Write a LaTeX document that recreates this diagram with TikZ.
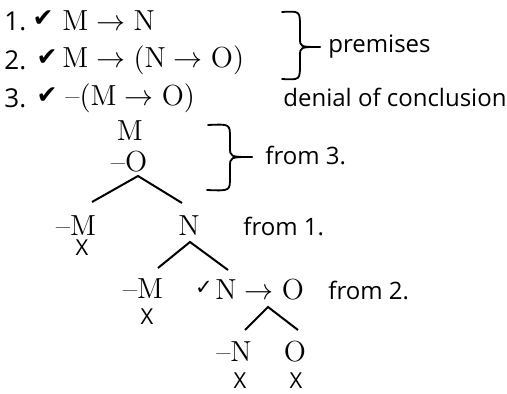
\RequirePackage{fix-cm}
\documentclass[tikz,border=0pt]{standalone}
\usepackage{fontspec}
\usepackage{amsmath}
\newfontfamily\handfont{Open Sans}
\newfontfamily\tickfont{DejaVu Sans}
\usetikzlibrary{positioning}
\newcommand{\fml}[1]{$\mathrm{#1}$}

\begin{document}
\begin{tikzpicture}[
  x=0.5pt, y=-0.5pt,
  hand/.style={font=\handfont\fontsize{12}{14}\selectfont, inner sep=0pt},
  numb/.style={font=\handfont\fontsize{13}{15}\selectfont, inner sep=0pt},
  cross/.style={font=\handfont\fontsize{11}{13}\selectfont, inner sep=0pt},
  frm/.style={font=\fontsize{14.5}{17}\selectfont, inner sep=0pt},
  tick/.style={font=\tickfont\fontsize{12.5}{14}\selectfont, inner sep=0pt},
  branch/.style={line width=1pt},
  brace/.style={line width=0.9pt, line cap=round}
]
\useasboundingbox (0,0) rectangle (507,394);

% premises and denied conclusion
\node[numb, anchor=west] (num1) at (4,21) {1.};
\node[tick] (chk1) at (43,19) {✔};
\node[frm, anchor=west] (frm1) at (62,21) {\fml{M \to N}};
\node[numb, anchor=west] (num2) at (4,60) {2.};
\node[tick] (chk2) at (47,58) {✔};
\node[frm, anchor=west] (frm2) at (62,60) {\fml{M \to (N \to O)}};
\node[numb, anchor=west] (num3) at (4,98) {3.};
\node[tick] (chk3) at (47,96) {✔};
\node[frm, anchor=west] (frm3) at (65,98) {–\fml{(M \to O)}};

\draw[brace] (282,12) .. controls (300,11) .. (300,27) -- (300,38)
  .. controls (300,47) .. (320,47);
\draw[brace] (282,79) .. controls (300,80) .. (300,64) -- (300,56)
  .. controls (300,47) .. (320,47);
\node[hand, anchor=west] (prem) at (328,47) {premises};
\node[hand, anchor=west] (deny) at (283,97) {denial of conclusion};

% the tree
\node[frm] (tM) at (130,131) {M};
\node[frm] (tnO) at (129,162) {–O};
\draw[brace] (208,125) .. controls (230,124) .. (230,138) -- (230,147)
  .. controls (230,157) .. (252,157);
\draw[brace] (207,190) .. controls (230,191) .. (230,177) -- (230,167)
  .. controls (230,157) .. (252,157);
\node[hand, anchor=west] (from3) at (265,155) {from 3.};

\coordinate (b1) at (138,176);
\coordinate (b1l) at (92,202);
\coordinate (b1r) at (182,203);
\draw[branch] (b1l) -- (b1) -- (b1r);
\node[frm] (tnM) at (76,226) {–M};
\node[frm] (tN) at (189,226) {N};
\node[cross] (x1) at (82,248) {X};
\node[hand, anchor=west] (from1) at (243,226) {from 1.};

\coordinate (b2) at (190,242);
\coordinate (b2l) at (158,268);
\coordinate (b2r) at (228,270);
\draw[branch] (b2l) -- (b2) -- (b2r);
\node[frm] (tnM2) at (143,289) {–M};
\node[cross] (x2) at (147,317) {X};
\node[tick, font=\tickfont\fontsize{10.5}{12}\selectfont] (chk4) at (204,288) {✓};
\node[frm, anchor=west] (tNO) at (215,290) {\fml{N \to O}};
\node[hand, anchor=west] (from2) at (328,290) {from 2.};

\coordinate (b3) at (268,307);
\coordinate (b3l) at (245,330);
\coordinate (b3r) at (298,330);
\draw[branch] (b3l) -- (b3) -- (b3r);
\node[frm] (tnN) at (234,352) {–N};
\node[frm] (tO) at (295,352) {O};
\node[cross] (x3) at (240,381) {X};
\node[cross] (x4) at (296,381) {X};
\end{tikzpicture}
\end{document}
